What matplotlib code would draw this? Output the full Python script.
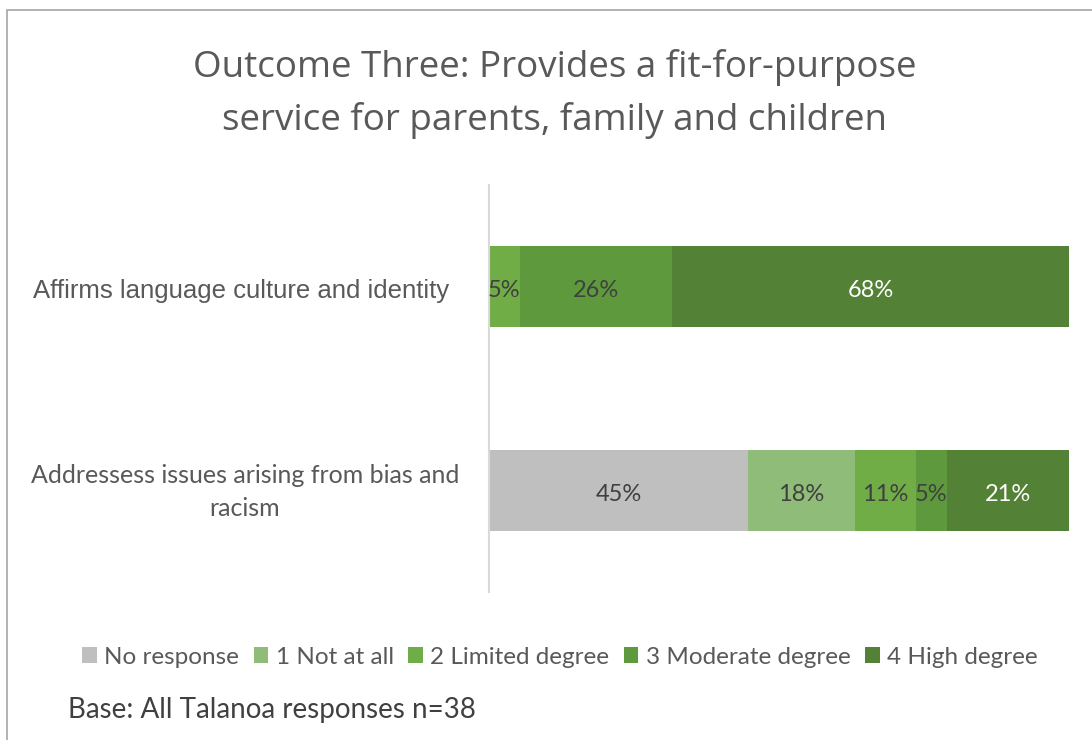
import matplotlib.pyplot as plt
from matplotlib.patches import Rectangle

# ==== Data ==== #
categories = ["Affirms language culture and identity",
              "Addressess issues arising from bias and\nracism"]
series = ["No response", "1 Not at all", "2 Limited degree",
          "3 Moderate degree", "4 High degree"]
# percent of responses (n=38), one row per category
values = {
    "No response":       [0.0, 44.7],
    "1 Not at all":      [0.0, 18.4],
    "2 Limited degree":  [5.3, 10.5],
    "3 Moderate degree": [26.3, 5.3],
    "4 High degree":     [68.4, 21.1],
}
colors = ["#BFBFBF", "#8FBC78", "#70AD47", "#5E9A3D", "#538135"]
label_colors = ["#404040", "#404040", "#404040", "#404040", "#FFFFFF"]

# ==== Figure ==== #
fig = plt.figure(figsize=(10.92, 7.40), dpi=100)
fig.patches.append(Rectangle((7 / 1092, -0.1), 1.2, 1 - 10 / 740 + 0.1,
                             transform=fig.transFigure, fill=False,
                             edgecolor="#A6A6A6", linewidth=1.2))
ax = fig.add_axes([489 / 1092, 1 - 592 / 740, 580 / 1092, 407 / 740])

ypos = [1, 0]
left = [0.0, 0.0]
for name, col, lcol in zip(series, colors, label_colors):
    vals = values[name]
    ax.barh(ypos, vals, left=left, height=0.4, color=col, label=name)
    for y, v, l in zip(ypos, vals, left):
        if v > 0:
            ax.text(l + v / 2, y - 0.02, f"{int(v + 0.5)}%", ha="center",
                    va="center", fontsize=17, color=lcol, family="Lato")
    left = [a + b for a, b in zip(left, vals)]

ax.set_xlim(0, 100)
ax.set_ylim(-0.5, 1.5)
ax.set_xticks([])
ax.set_yticks([])
for s in ["top", "right", "bottom"]:
    ax.spines[s].set_visible(False)
ax.spines["left"].set_color("#D9D9D9")
ax.spines["left"].set_linewidth(1.5)

# category labels
ax.text(449 / 1092, 1 - 291 / 740, categories[0], transform=fig.transFigure,
        ha="right", va="center", fontsize=18.5, color="#595959",
        family="Liberation Sans")
ax.text(245 / 1092, 1 - 492 / 740, categories[1], transform=fig.transFigure,
        ha="center", va="center", fontsize=18, color="#595959",
        family="Lato", multialignment="center", linespacing=1.55)

# title
fig.text(555 / 1092, 1 - 94 / 740,
         "Outcome Three: Provides a fit-for-purpose\nservice for parents, family and children",
         ha="center", va="center", fontsize=26.5, color="#595959",
         family="Open Sans", linespacing=1.6)

# legend
leg = fig.legend(loc="center", bbox_to_anchor=(560 / 1092, 1 - 657 / 740),
                 ncol=5, frameon=False, handlelength=0.6, handleheight=0.6,
                 handletextpad=0.3, columnspacing=0.6,
                 prop={"family": "Lato", "size": 17.5})
for t in leg.get_texts():
    t.set_color("#595959")

fig.text(68 / 1092, 1 - 710 / 740, "Base: All Talanoa responses n=38",
         ha="left", va="center", fontsize=20, color="#404040", family="Lato")

fig.savefig("out.png", dpi=100)
